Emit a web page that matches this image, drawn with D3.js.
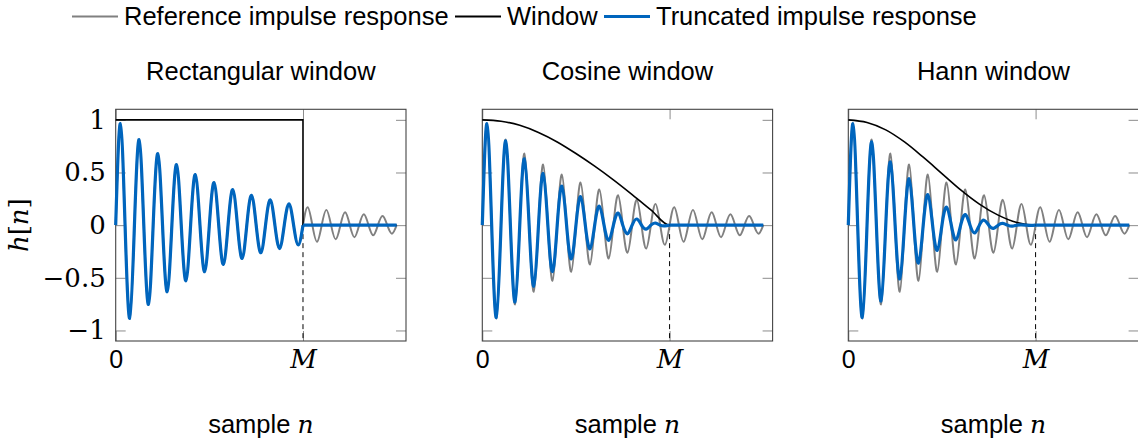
<!DOCTYPE html>
<html>
<head>
<meta charset="utf-8">
<script src="https://d3js.org/d3.v7.min.js"></script>
<style>
  body { margin: 0; background: #fff; }
</style>
</head>
<body>
<svg id="drawing_region"></svg>
<script>
// time axis in units of M, the impulse response has 10 periods per M
const period = 0.1;

// reference impulse response: one peak and one trough per period
const refPeaks   = [0.964, 0.812, 0.679, 0.575, 0.480, 0.404, 0.338, 0.284, 0.240, 0.202, 0.171, 0.145, 0.122, 0.103, 0.087];
const refTroughs = [-0.885, -0.752, -0.632, -0.528, -0.442, -0.373, -0.316, -0.262, -0.222, -0.187, -0.158, -0.135, -0.114, -0.096, -0.081];

// truncated responses (only the first M samples survive)
const rectPeaks   = [0.964, 0.812, 0.679, 0.575, 0.480, 0.404, 0.338, 0.284, 0.240, 0.202];
const rectTroughs = [-0.885, -0.752, -0.632, -0.528, -0.442, -0.373, -0.316, -0.262, -0.222, -0.187];
const cosPeaks    = [0.963, 0.800, 0.630, 0.490, 0.370, 0.270, 0.180, 0.115, 0.058, 0.020];
const cosTroughs  = [-0.877, -0.730, -0.580, -0.440, -0.320, -0.225, -0.145, -0.082, -0.038, -0.006];
const hannPeaks   = [0.963, 0.790, 0.600, 0.440, 0.290, 0.170, 0.100, 0.047, 0.016, 0.003];
const hannTroughs = [-0.877, -0.720, -0.510, -0.360, -0.240, -0.140, -0.073, -0.030, -0.010, -0.002];

// windows sampled at these positions
const windowT    = [0, 0.1, 0.2, 0.3, 0.4, 0.5, 0.6, 0.7, 0.8, 0.9, 1.0];
const rectWindow = [1, 1, 1, 1, 1, 1, 1, 1, 1, 1, 1];
const cosWindow  = [1, 0.987, 0.948, 0.880, 0.790, 0.680, 0.560, 0.430, 0.290, 0.145, 0];
const hannWindow = [1, 0.975, 0.905, 0.790, 0.645, 0.490, 0.335, 0.200, 0.095, 0.025, 0];
const tailT      = [1.0, 1.5];
const tailValues = [0, 0];

const titles = ['Rectangular window', 'Cosine window', 'Hann window'];
const xTicks = [0, 1];
const xTickLabels = ['0', 'M'];
const yTicks = [-1, -0.5, 0, 0.5, 1];
const yTickLabels = ['\u22121', '\u22120.5', '0', '0.5', '1'];

const legendItems = ['Reference impulse response', 'Window', 'Truncated impulse response'];

const GRAY = '#808080';
const BLUE = '#0065bd';
const SANS = '"Liberation Sans", Arial, sans-serif';
const SERIF = '"DejaVu Serif", serif';

const svg = d3.select('#drawing_region')
    .attr('width', 1138)
    .attr('height', 444);

// build a wave through zero crossings and extrema
function oscillation( peaks, troughs ) {
    let pts = [];
    peaks.forEach( (p, k) => {
        const t0 = k * period;
        pts.push( [t0, 0] );
        pts.push( [t0 + period / 4, p] );
        pts.push( [t0 + period / 2, 0] );
        pts.push( [t0 + 3 * period / 4, troughs[k]] );
    });
    pts.push( [peaks.length * period, 0] );
    return pts;
}

class WindowPlot {

    constructor( config ) {
        this.config = config;
        this.init();
    }

    init() {
        let self = this;
        const c = self.config;

        self.chart = svg.append('g')
            .attr('transform', `translate(${c.left}, ${c.top})`);

        self.xscale = d3.scaleLinear()
            .domain( [0, 1.55] )
            .range( [0, c.width] );

        self.yscale = d3.scaleLinear()
            .domain( [-1.1, 1.1] )
            .range( [c.height, 0] );
    }

    path( pts, curve ) {
        let self = this;
        return d3.line()
            .x( d => self.xscale(d[0]) )
            .y( d => self.yscale(d[1]) )
            .curve( curve )( pts );
    }

    render() {
        let self = this;
        const c = self.config;

        // axes with inward ticks on all four sides
        const left = self.chart.append('g')
            .call( d3.axisLeft(self.yscale).tickValues(yTicks).tickSize(-10).tickPadding(10)
                .tickFormat( (d, i) => c.showY ? yTickLabels[i] : '' ) );
        const right = self.chart.append('g')
            .attr('transform', `translate(${c.width}, 0)`)
            .call( d3.axisRight(self.yscale).tickValues(yTicks).tickSize(-10).tickFormat('') );
        const bottom = self.chart.append('g')
            .attr('transform', `translate(0, ${c.height})`)
            .call( d3.axisBottom(self.xscale).tickValues(xTicks).tickSize(-10).tickPadding(9)
                .tickFormat( (d, i) => xTickLabels[i] ) );
        const top = self.chart.append('g')
            .call( d3.axisTop(self.xscale).tickValues(xTicks).tickSize(-10).tickFormat('') );

        [left, right, bottom, top].forEach( g => {
            g.select('.domain').remove();
            g.selectAll('.tick line').attr('stroke', '#8c8c8c').attr('stroke-width', 1);
            g.selectAll('.tick text').attr('fill', '#000');
        });
        left.selectAll('.tick text')
            .attr('font-family', SERIF)
            .attr('font-size', 26);
        bottom.selectAll('.tick text')
            .attr('font-size', (d, i) => i == 0 ? 25 : 26)
            .attr('font-family', (d, i) => i == 0 ? SANS : SERIF)
            .attr('font-style', (d, i) => i == 0 ? 'normal' : 'italic');

        self.chart.append('rect')
            .attr('width', c.width)
            .attr('height', c.height)
            .attr('fill', 'none')
            .attr('stroke', '#444')
            .attr('stroke-width', 1.1);

        // dashed marker at n = M
        self.chart.append('line')
            .attr('x1', self.xscale(1)).attr('x2', self.xscale(1))
            .attr('y1', self.yscale(0)).attr('y2', c.height)
            .attr('stroke', '#000')
            .attr('stroke-width', 1)
            .attr('stroke-dasharray', '5,4');

        // reference impulse response
        self.chart.append('path')
            .attr('d', self.path( oscillation(refPeaks, refTroughs), d3.curveNatural ))
            .attr('fill', 'none')
            .attr('stroke', GRAY)
            .attr('stroke-width', 2);

        // window
        let wpts = windowT.map( (t, i) => [t, c.window[i]] );
        if ( c.rect ) wpts.push( [tailT[0], tailValues[0]] );
        wpts.push( [tailT[1], tailValues[1]] );
        self.chart.append('path')
            .attr('d', self.path( wpts, c.rect ? d3.curveLinear : d3.curveMonotoneX ))
            .attr('fill', 'none')
            .attr('stroke', '#000')
            .attr('stroke-width', 1.6);

        // truncated response
        self.chart.append('path')
            .attr('d', self.path( oscillation(c.peaks, c.troughs), d3.curveNatural ))
            .attr('fill', 'none')
            .attr('stroke', BLUE)
            .attr('stroke-width', 3.2);
        self.chart.append('path')
            .attr('d', self.path( tailT.map( (t, i) => [t, tailValues[i]] ), d3.curveLinear ))
            .attr('fill', 'none')
            .attr('stroke', BLUE)
            .attr('stroke-width', 3.2);

        // title
        self.chart.append('text')
            .attr('x', c.width / 2)
            .attr('y', -29)
            .attr('text-anchor', 'middle')
            .attr('font-family', SANS)
            .attr('font-size', 25.5)
            .text( c.title );

        // x label
        const xl = self.chart.append('text')
            .attr('x', c.width / 2)
            .attr('y', c.height + 92)
            .attr('text-anchor', 'middle')
            .attr('font-family', SANS)
            .attr('font-size', 25.5);
        xl.append('tspan').text('sample ');
        xl.append('tspan').attr('font-family', SERIF).attr('font-style', 'italic').attr('font-size', 25).text('n');

        if ( c.showY ) {
            const yl = svg.append('text')
                .attr('transform', `translate(28, ${c.top + self.yscale(0)}) rotate(-90)`)
                .attr('text-anchor', 'middle')
                .attr('font-family', SERIF)
                .attr('font-size', 26);
            yl.append('tspan').attr('font-style', 'italic').text('h');
            yl.append('tspan').text('[');
            yl.append('tspan').attr('font-style', 'italic').text('n');
            yl.append('tspan').text(']');
        }
    }
}

const panelLefts = [115.7, 482.3, 848.3];
const panelData = [
    { window: rectWindow, peaks: rectPeaks, troughs: rectTroughs, rect: true },
    { window: cosWindow,  peaks: cosPeaks,  troughs: cosTroughs,  rect: false },
    { window: hannWindow, peaks: hannPeaks, troughs: hannTroughs, rect: false }
];

panelData.forEach( (p, i) => {
    const plot = new WindowPlot({
        left: panelLefts[i], top: 109.3, width: 290.3, height: 231.7,
        title: titles[i], showY: i == 0,
        window: p.window, peaks: p.peaks, troughs: p.troughs, rect: p.rect
    });
    plot.render();
});

// legend
const legendX = [72, 455, 604];
const legendColors = [GRAY, '#000', BLUE];
const legendWidths = [2, 2, 3];
const legend = svg.append('g');
legendItems.forEach( (name, i) => {
    legend.append('line')
        .attr('x1', legendX[i]).attr('x2', legendX[i] + 46)
        .attr('y1', 16.5).attr('y2', 16.5)
        .attr('stroke', legendColors[i])
        .attr('stroke-width', legendWidths[i]);
    legend.append('text')
        .attr('x', legendX[i] + 52)
        .attr('y', 25)
        .attr('font-family', SANS)
        .attr('font-size', 25.5)
        .text( name );
});
</script>
</body>
</html>
